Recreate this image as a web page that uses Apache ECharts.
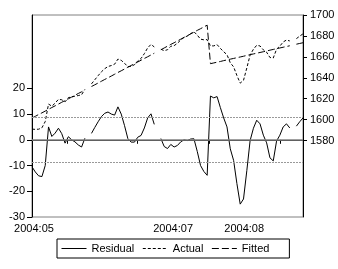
<!DOCTYPE html>
<html>
<head>
<meta charset="utf-8">
<script src="https://cdn.jsdelivr.net/npm/echarts@6/dist/echarts.min.js"></script>
<style>
  html, body { margin: 0; padding: 0; background: #fff; }
  #chart { width: 338px; height: 269px; }
</style>
</head>
<body>
<div id="chart"></div>
<script>
// observation index (daily, gaps are NA)
var obs = [];
for (var k = 0; k < 83; k++) obs.push(k);

// residual (left axis)
var residual = [
  -10.5, -12.5, -14.0, -14.3, -10.0, 5.0, 1.3, 2.6, 4.5, 2.4,
  -1.3, 1.2, 0.0, -0.8, -2.0, -2.8, 0.6, null, 2.5, 4.8,
  7.0, 9.0, 10.3, 10.8, 10.0, 9.6, 12.8, 10.0, 5.5, 0.5,
  -0.9, -0.9, 1.0, 1.7, 4.6, 8.5, 10.1, 6.0, null, 0.5,
  -2.6, -3.4, -1.8, -2.8, -2.2, -0.8, 0.0, -0.3, 0.3, 0.4,
  -4.5, -10.0, -12.3, -13.8, 17.0, 16.3, 16.8, 12.5, 8.5, 5.0,
  -3.5, -8.0, -17.0, -25.0, -23.0, -12.0, -0.3, 4.5, 7.6, 6.2,
  1.8, -1.2, -7.0, -8.2, -0.5, 1.8, 5.0, 6.2, 4.6, null,
  5.3, 7.0, 8.5
];

// actual (right axis)
var actual = [
  1591.0, 1590.7, 1590.9, 1592.2, 1598.2, 1614.9, 1612.9, 1615.8, 1619.4, 1619.0,
  1617.0, 1621.1, 1621.6, 1622.5, 1623.0, 1623.8, 1628.9, null, 1634.2, 1638.1,
  1642.0, 1645.7, 1648.7, 1650.8, 1651.7, 1653.0, 1657.9, 1656.7, 1653.9, 1650.6,
  1650.9, 1652.5, 1656.1, 1658.5, 1663.1, 1668.6, 1671.9, 1669.5, null, 1667.3,
  1665.9, 1666.8, 1670.1, 1670.7, 1673.0, 1676.1, 1678.6, 1679.9, 1682.2, 1684.0,
  1680.8, 1676.9, 1676.3, 1676.5, 1670.5, 1670.5, 1671.7, 1668.1, 1664.9, 1662.1,
  1654.3, 1650.5, 1642.2, 1634.9, 1637.6, 1649.4, 1661.8, 1667.3, 1671.1, 1670.4,
  1666.7, 1664.4, 1659.4, 1658.9, 1667.3, 1670.3, 1674.2, 1676.1, 1675.2, null,
  1677.4, 1679.8, 1682.0
];

// fitted (right axis)
var fitted = [
  1601.5, 1603.2, 1604.9, 1606.5, 1608.2, 1609.9, 1611.6, 1613.2, 1614.9, 1616.6,
  1618.3, 1619.9, 1621.6, 1623.3, 1625.0, 1626.6, 1628.3, null, 1631.7, 1633.3,
  1635.0, 1636.7, 1638.4, 1640.0, 1641.7, 1643.4, 1645.1, 1646.7, 1648.4, 1650.1,
  1651.8, 1653.4, 1655.1, 1656.8, 1658.5, 1660.1, 1661.8, 1663.5, null, 1666.8,
  1668.5, 1670.2, 1671.9, 1673.5, 1675.2, 1676.9, 1678.6, 1680.2, 1681.9, 1683.6,
  1685.3, 1686.9, 1688.6, 1690.3, 1653.5, 1654.2, 1654.9, 1655.6, 1656.4, 1657.1,
  1657.8, 1658.5, 1659.2, 1659.9, 1660.6, 1661.4, 1662.1, 1662.8, 1663.5, 1664.2,
  1664.9, 1665.6, 1666.4, 1667.1, 1667.8, 1668.5, 1669.2, 1669.9, 1670.6, null,
  1672.1, 1672.8, 1673.5
];

// axis ticks / labels
var dateLabels = ['2004:05', '2004:07', '2004:08'];
var dateLabelPos = [0.6, 42.7, 64.2];
var dateTickPos = [10.6, 31.8, 53.6, 75.1];
var leftTicks = [-30, -20, -10, 0, 10, 20];
var rightTicks = [1580, 1600, 1620, 1640, 1660, 1680, 1700];
var seBand = 8.9;

function pairs(arr) {
  return arr.map(function (v, i) { return [obs[i], v]; });
}

var font = 'Liberation Sans, Arial, sans-serif';
var chart = echarts.init(document.getElementById('chart'));
chart.setOption({
  animation: false,
  grid: {
    left: 32, right: 35, top: 15, bottom: 52,
    show: true, borderColor: '#808080', borderWidth: 1
  },
  legend: {
    left: 57, top: 239,
    padding: [4, 20, 4, 4],
    itemGap: 8,
    itemWidth: 25,
    itemHeight: 10,
    borderColor: '#000',
    borderWidth: 1,
    borderRadius: 0,
    itemStyle: { opacity: 0 },
    lineStyle: { width: 1 },
    textStyle: { fontFamily: font, fontSize: 11, color: '#000' },
    data: ['Residual', 'Actual', 'Fitted']
  },
  xAxis: {
    type: 'value',
    min: 0, max: 82,
    axisLine: { lineStyle: { color: '#000', width: 1 } },
    axisTick: { customValues: dateTickPos, length: 4, lineStyle: { color: '#000' } },
    axisLabel: {
      customValues: dateLabelPos,
      margin: 6,
      fontFamily: font, fontSize: 11, color: '#000',
      formatter: function (v) {
        var j = dateLabelPos.indexOf(v);
        return j >= 0 ? dateLabels[j] : '';
      }
    },
    splitLine: { show: false }
  },
  yAxis: [{
    type: 'value',
    min: -30, max: 48.5,
    axisLine: { show: true, lineStyle: { color: '#000', width: 1 } },
    axisTick: { show: true, customValues: leftTicks, length: 5, lineStyle: { color: '#000' } },
    axisLabel: { customValues: leftTicks, margin: 7, fontFamily: font, fontSize: 11, color: '#000' },
    splitLine: { show: false }
  }, {
    type: 'value',
    position: 'right',
    min: 1507, max: 1700,
    axisLine: { show: true, lineStyle: { color: '#000', width: 1 } },
    axisTick: { show: true, customValues: rightTicks, length: 4, lineStyle: { color: '#000' } },
    axisLabel: {
      customValues: rightTicks, margin: 7, fontFamily: font, fontSize: 11, color: '#000',
      formatter: function (v) { return String(v); }
    },
    splitLine: { show: false }
  }],
  series: [{
    name: 'Residual',
    type: 'line',
    yAxisIndex: 0,
    data: pairs(residual),
    symbol: 'none',
    lineStyle: { color: '#000', width: 1 },
    itemStyle: { color: '#000' },
    markLine: {
      silent: true,
      symbol: 'none',
      label: { show: false },
      data: [
        { yAxis: 0, lineStyle: { color: '#808080', width: 1.5, type: 'solid' } },
        { yAxis: seBand, lineStyle: { color: '#999', width: 1, type: [2, 1] } },
        { yAxis: -seBand, lineStyle: { color: '#999', width: 1, type: [2, 1] } }
      ]
    },
    z: 3
  }, {
    name: 'Actual',
    type: 'line',
    yAxisIndex: 1,
    data: pairs(actual),
    symbol: 'none',
    lineStyle: { color: '#000', width: 1, type: [3, 2] },
    itemStyle: { color: '#000' }
  }, {
    name: 'Fitted',
    type: 'line',
    yAxisIndex: 1,
    data: pairs(fitted),
    symbol: 'none',
    lineStyle: { color: '#000', width: 1, type: [7, 3] },
    itemStyle: { color: '#000' }
  }]
});
</script>
</body>
</html>
